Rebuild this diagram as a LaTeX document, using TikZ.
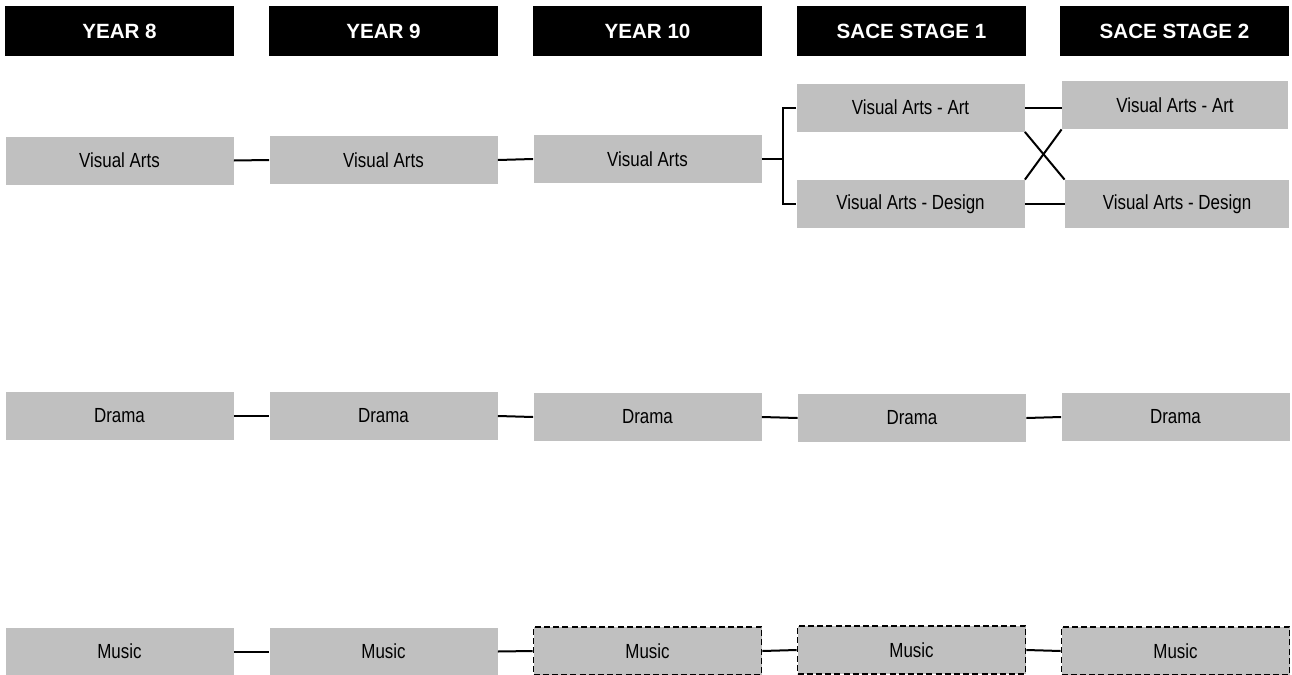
\documentclass[tikz,border=0pt]{standalone}
\usepackage{fontspec}
\setmainfont{Liberation Sans}
\newfontfamily\boxfont{Liberation Sans}[FakeStretch=0.83]
\definecolor{boxgrey}{RGB}{192,192,192}
% one drawing unit is 0.5pt, so box sizes below are half the unit counts
\tikzset{
  head/.style={fill=black, text=white, minimum width=114.5pt, minimum height=25pt,
    inner sep=0pt, font=\fontsize{10.3}{12}\selectfont\bfseries},
  course/.style={fill=boxgrey, text=black, minimum width=114pt, minimum height=24pt,
    inner sep=0pt, font=\boxfont\fontsize{10.2}{12}\selectfont},
  optional/.style={course, draw=black, line width=0.8pt, dash pattern=on 3pt off 1.6pt},
  link/.style={draw=black, line width=1pt}
}
\begin{document}
\begin{tikzpicture}[x=0.5pt, y=-0.5pt]
\useasboundingbox (0,0) rectangle (1292,675);

% column headers
\node[head] (h8)  at (119.5,31) {YEAR 8};
\node[head] (h9)  at (383.5,31) {YEAR 9};
\node[head] (h10) at (647.5,31) {YEAR 10};
\node[head] (hs1) at (911.5,31) {SACE STAGE 1};
\node[head] (hs2) at (1174.5,31) {SACE STAGE 2};

% visual arts pathway
\node[course] (va8)  at (119.5,160.5) {Visual Arts};
\node[course] (va9)  at (383.5,160) {Visual Arts};
\node[course] (va10) at (647.5,159) {Visual Arts};
\node[course] (art1) at (910.5,107.5) {Visual Arts - Art};
\node[course] (des1) at (910.5,204) {Visual Arts - Design};
\node[course, minimum width=113pt] (art2) at (1175,105) {Visual Arts - Art};
\node[course, minimum width=112pt] (des2) at (1177,204) {Visual Arts - Design};
\coordinate (split) at (783,159);

% drama pathway
\node[course] (dr8)  at (119.5,416) {Drama};
\node[course] (dr9)  at (383.5,416) {Drama};
\node[course] (dr10) at (647.5,417) {Drama};
\node[course] (dr1)  at (912,418) {Drama};
\node[course] (dr2)  at (1175.5,417) {Drama};

% music pathway
\node[course]   (mu8)  at (119.5,651.5) {Music};
\node[course]   (mu9)  at (383.5,651.5) {Music};
\node[optional] (mu10) at (647.5,651) {Music};
\node[optional] (mu1)  at (911.5,650) {Music};
\node[optional] (mu2)  at (1175.5,651) {Music};

% connectors
\draw[link] (va8.east) -- (va9.west);
\draw[link] (va9.east) -- (va10.west);
\draw[link] (va10.east) -- (split);
\draw[link] (art1.west) -- (art1.west -| split) -- (des1.west -| split) -- (des1.west);
\draw[link] (art1.east) -- (art1.east -| art2.west);
\draw[link] (des1.east) -- (des2.west);
\draw[link] (art1.south east) -- (des2.north west);
\draw[link] (art2.south west) -- (des1.north east);

\draw[link] (dr8.east) -- (dr9.west);
\draw[link] (dr9.east) -- (dr10.west);
\draw[link] (dr10.east) -- (dr1.west);
\draw[link] (dr1.east) -- (dr2.west);

\draw[link] (mu8.east) -- (mu9.west);
\draw[link] (mu9.east) -- (mu10.west);
\draw[link] (mu10.east) -- (mu1.west);
\draw[link] (mu1.east) -- (mu2.west);
\end{tikzpicture}
\end{document}
